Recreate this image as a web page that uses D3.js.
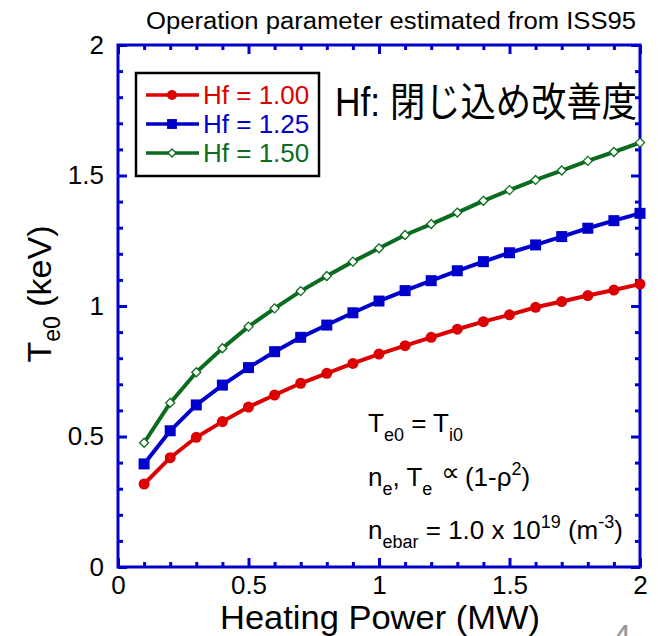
<!DOCTYPE html>
<html>
<head>
<meta charset="utf-8">
<script src="https://cdn.jsdelivr.net/npm/d3@7"></script>
<style>
  body { margin: 0; background: #fff; }
  text { font-family: "Liberation Sans", Arial, sans-serif; }
</style>
</head>
<body>
<svg id="chart" width="658" height="636"></svg>
<script>
// heating power (MW)
var power = [0.1, 0.2, 0.3, 0.4, 0.5, 0.6, 0.7, 0.8, 0.9, 1.0,
             1.1, 1.2, 1.3, 1.4, 1.5, 1.6, 1.7, 1.8, 1.9, 2.0];
// Te0 (keV) for each Hf
var te_hf100 = [0.318, 0.419, 0.497, 0.557, 0.613, 0.659, 0.704, 0.742, 0.780, 0.816,
                0.848, 0.880, 0.911, 0.940, 0.966, 0.995, 1.017, 1.040, 1.061, 1.084];
var te_hf125 = [0.395, 0.522, 0.621, 0.697, 0.764, 0.825, 0.880, 0.927, 0.974, 1.019,
                1.059, 1.097, 1.135, 1.170, 1.204, 1.234, 1.266, 1.298, 1.327, 1.355];
var te_hf150 = [0.476, 0.629, 0.746, 0.838, 0.921, 0.991, 1.057, 1.115, 1.170, 1.221,
                1.272, 1.314, 1.358, 1.403, 1.444, 1.483, 1.519, 1.556, 1.590, 1.626];

var seriesNames = ["Hf = 1.00", "Hf = 1.25", "Hf = 1.50"];
var seriesColors = ["#dd0000", "#0000cc", "#0b6b1e"];
var seriesMarks = ["circle", "square", "diamond"];

var majorTicks = [0, 0.5, 1, 1.5, 2];
var tickLabels = ["0", "0.5", "1", "1.5", "2"];
var minorTicks = d3.range(1, 20).map(function(i){ return i / 10; })
	.filter(function(v){ return Math.round(v * 10) % 5 != 0; });

var series = [te_hf100, te_hf125, te_hf150].map(function(vals, i){
	return {
		name: seriesNames[i],
		color: seriesColors[i],
		mark: seriesMarks[i],
		points: vals.map(function(v, j){ return {p: power[j], t: v}; })
	};
});

var svg = d3.select("#chart");
var plotX = 118, plotY = 45, w = 522, h = 522;
var axisColor = "#0000cc";

var x = d3.scaleLinear().domain([0, 2]).range([0, w]);
var y = d3.scaleLinear().domain([0, 2]).range([h, 0]);
var fmtTick = function(d){ return tickLabels[majorTicks.indexOf(d)]; };

var g = svg.append("g").attr("transform", "translate(" + plotX + "," + plotY + ")");

// inward ticks on all four sides
function tickAxis(axis, tx, ty, values, size, labels, pad){
	var a = g.append("g")
		.attr("transform", "translate(" + tx + "," + ty + ")")
		.call(axis.tickValues(values).tickSize(size).tickSizeOuter(0)
			.tickPadding(labels ? pad : 0)
			.tickFormat(labels ? fmtTick : ""));
	a.select(".domain").remove();
	a.selectAll("line").attr("stroke", axisColor).attr("stroke-width", 3);
	a.selectAll("text").attr("fill", "#000").style("font-size", "26px")
		.style("font-family", "Liberation Sans, Arial, sans-serif");
	return a;
}
tickAxis(d3.axisBottom(x), 0, h, majorTicks, -9, true, 9);
tickAxis(d3.axisBottom(x), 0, h, minorTicks, -5, false);
tickAxis(d3.axisTop(x), 0, 0, majorTicks, -9, false);
tickAxis(d3.axisTop(x), 0, 0, minorTicks, -5, false);
tickAxis(d3.axisLeft(y), 0, 0, majorTicks, -9, true, 14);
tickAxis(d3.axisLeft(y), 0, 0, minorTicks, -5, false);
tickAxis(d3.axisRight(y), w, 0, majorTicks, -9, false);
tickAxis(d3.axisRight(y), w, 0, minorTicks, -5, false);

g.append("rect")
	.attr("width", w).attr("height", h)
	.attr("fill", "none").attr("stroke", axisColor).attr("stroke-width", 3);

var line = d3.line()
	.x(function(d){ return x(d.p); })
	.y(function(d){ return y(d.t); });

function drawMark(sel, mark, color, s){
	if (mark == "circle") {
		sel.append("circle").attr("r", 5.5 * s).attr("fill", color);
	} else if (mark == "square") {
		sel.append("rect").attr("x", -5.5 * s).attr("y", -5.5 * s)
			.attr("width", 11 * s).attr("height", 11 * s).attr("fill", color);
	} else {
		var r = 4.5 * s;
		sel.append("path")
			.attr("d", "M0," + (-r) + "L" + r + ",0L0," + r + "L" + (-r) + ",0Z")
			.attr("fill", "#fff").attr("stroke", color).attr("stroke-width", 1.3);
	}
}

var sg = g.selectAll(".series").data(series).enter()
	.append("g").attr("class", "series");

sg.append("path")
	.attr("d", function(d){ return line(d.points); })
	.attr("fill", "none")
	.attr("stroke", function(d){ return d.color; })
	.attr("stroke-width", 4);

sg.each(function(s){
	d3.select(this).selectAll(".pt").data(s.points).enter()
		.append("g").attr("class", "pt")
		.attr("transform", function(d){ return "translate(" + x(d.p) + "," + y(d.t) + ")"; })
		.each(function(){ drawMark(d3.select(this), s.mark, s.color, 1); });
});

// legend
var lg = svg.append("g").attr("transform", "translate(136,73)");
lg.append("rect").attr("width", 183).attr("height", 103)
	.attr("fill", "#fff").attr("stroke", "#000").attr("stroke-width", 2.5);
var rows = lg.selectAll(".row").data(series).enter().append("g")
	.attr("transform", function(d, i){ return "translate(0," + [22, 51, 80][i] + ")"; });
rows.append("line").attr("x1", 10).attr("x2", 63)
	.attr("stroke", function(d){ return d.color; }).attr("stroke-width", 3.5);
rows.append("g").attr("transform", "translate(36,0)")
	.each(function(d){ drawMark(d3.select(this), d.mark, d.color, 0.9); });
rows.append("text").attr("x", 67).attr("y", 9)
	.attr("fill", function(d){ return d.color; })
	.style("font-size", "26px")
	.text(function(d){ return d.name; });

// titles
svg.append("text").attr("x", 391).attr("y", 29).attr("text-anchor", "middle")
	.style("font-size", "23px")
	.attr("textLength", 490).attr("lengthAdjust", "spacingAndGlyphs")
	.text("Operation parameter estimated from ISS95");

svg.append("text").attr("x", 335).attr("y", 116)
	.style("font-size", "40px")
	.style("font-family", "Liberation Sans, 'Noto Sans CJK JP', sans-serif")
	.attr("textLength", 302).attr("lengthAdjust", "spacingAndGlyphs")
	.text("Hf: 閉じ込め改善度");

svg.append("text").attr("x", 380).attr("y", 629).attr("text-anchor", "middle")
	.style("font-size", "34px")
	.attr("textLength", 320).attr("lengthAdjust", "spacingAndGlyphs")
	.text("Heating Power (MW)");

var yl = svg.append("text")
	.attr("transform", "translate(51,294) rotate(-90)")
	.attr("text-anchor", "middle")
	.style("font-size", "34px");
yl.append("tspan").text("T");
yl.append("tspan").attr("dy", 9).style("font-size", "23px").text("e0");
yl.append("tspan").attr("dy", -9).text(" (keV)");

// annotations
var ann = svg.append("g").style("font-size", "26px");
var a1 = ann.append("text").attr("x", 368).attr("y", 432);
a1.append("tspan").text("T");
a1.append("tspan").attr("dy", 9).style("font-size", "18px").text("e0");
a1.append("tspan").attr("dy", -9).text(" = T");
a1.append("tspan").attr("dy", 9).style("font-size", "18px").text("i0");

var a2 = ann.append("text").attr("x", 368).attr("y", 486);
a2.append("tspan").text("n");
a2.append("tspan").attr("dy", 9).style("font-size", "18px").text("e");
a2.append("tspan").attr("dy", -9).text(", T");
a2.append("tspan").attr("dy", 9).style("font-size", "18px").text("e");
a2.append("tspan").attr("dy", -14).attr("dx", 9)
	.style("font-size", "26px").style("font-family", "DejaVu Sans, sans-serif")
	.text("\u221D");
a2.append("tspan").attr("dy", 5).attr("dx", 5).text("(1-\u03C1");
a2.append("tspan").attr("dy", -11).style("font-size", "18px").text("2");
a2.append("tspan").attr("dy", 11).text(")");

var a3 = ann.append("text").attr("x", 368).attr("y", 539);
a3.append("tspan").text("n");
a3.append("tspan").attr("dy", 9).style("font-size", "18px").text("ebar");
a3.append("tspan").attr("dy", -9).text(" = 1.0 x 10");
a3.append("tspan").attr("dy", -11).style("font-size", "18px").text("19");
a3.append("tspan").attr("dy", 11).text(" (m");
a3.append("tspan").attr("dy", -11).style("font-size", "18px").text("-3");
a3.append("tspan").attr("dy", 11).text(")");

// page number
svg.append("text").attr("x", 622).attr("y", 648).attr("text-anchor", "middle")
	.attr("fill", "#999").style("font-size", "34px").text("4");
</script>
</body>
</html>
